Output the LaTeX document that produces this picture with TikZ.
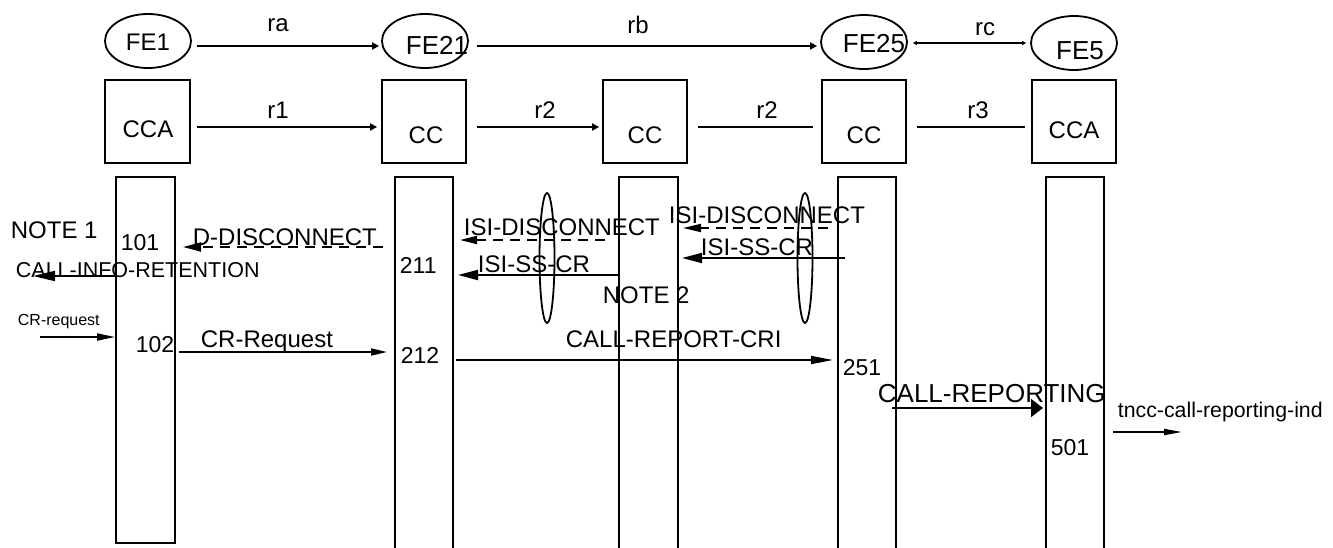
\documentclass[tikz,border=0pt]{standalone}
\usepackage{fontspec}
\setmainfont{Liberation Sans}
\usetikzlibrary{arrows.meta,shapes.geometric,calc}
\newcommand{\myfs}[1]{\fontsize{#1}{#1}\selectfont}
\begin{document}
\begin{tikzpicture}[x=1pt,y=-1pt,line width=1.8pt,
  fe/.style={draw,ellipse,minimum width=86pt,minimum height=54pt,inner sep=0pt},
  fcbox/.style={draw,rectangle,minimum height=83pt,minimum width=84pt,inner sep=0pt},
  lane/.style={draw,rectangle,minimum width=58pt,inner sep=0pt},
  oval/.style={draw,ellipse,minimum width=15pt,minimum height=130pt,inner sep=0pt},
  lbl/.style={inner sep=0pt,font=\myfs{24}},
  num/.style={inner sep=0pt,font=\myfs{23},anchor=base west},
  tipA/.style={-{Triangle[length=7pt,width=7pt]}},
  tipR/.style={{Triangle[length=4pt,width=4pt]}-{Triangle[length=4pt,width=4pt]}},
  tipM/.style={-{Triangle[length=18pt,width=9pt]}},
  tipS/.style={-{Triangle[length=16pt,width=7pt]}},
  tipB/.style={-{Triangle[length=12pt,width=18pt]}},
  dsh/.style={dash pattern=on 10pt off 7pt}]
\clip (0,0) rectangle (1333,547);
\fill[white] (0,0) rectangle (1333,547);
% functional entities
\node[fe] (fe1) at (148,41) {};
\node[fe] (fe21) at (425,41) {};
\node[fe] (fe25) at (864,42) {};
\node[fe] (fe5) at (1074,43) {};
\node[lbl,anchor=base] (fe1t) at (148,50) {FE1};
\node[lbl,anchor=base,font=\myfs{26}] (fe21t) at (437,54) {FE21};
\node[lbl,anchor=base,font=\myfs{26}] (fe25t) at (874,52) {FE25};
\node[lbl,anchor=base,font=\myfs{26}] (fe5t) at (1080,59) {FE5};
% boxes
\node[fcbox,minimum width=85pt] (b1) at (147.5,121.5) {};
\node[fcbox] (b2) at (424,121.5) {};
\node[fcbox] (b3) at (645,121.5) {};
\node[fcbox] (b4) at (864,121.5) {};
\node[fcbox] (b5) at (1074,121.5) {};
\node[lbl,anchor=base] (b1t) at (148,137) {CCA};
\node[lbl,anchor=base] (b2t) at (426,143) {CC};
\node[lbl,anchor=base] (b3t) at (645,143) {CC};
\node[lbl,anchor=base] (b4t) at (864,143) {CC};
\node[lbl,anchor=base] (b5t) at (1074,138) {CCA};
% lanes
\node[lane,minimum width=59pt,minimum height=366pt] (c1) at (145.5,360) {};
\node[lane,minimum height=383pt] (c2) at (424,368.5) {};
\node[lane,minimum width=59pt,minimum height=383pt] (c3) at (648.5,368.5) {};
\node[lane,minimum height=383pt] (c4) at (867,368.5) {};
\node[lane,minimum height=383pt] (c5) at (1075,368.5) {};
% top relations
\draw[tipA] ($(fe1.east)+(5,5)$) -- ($(fe21.west)+(-2,5)$);
\draw[tipA] ($(fe21.east)+(8,5)$) -- ($(fe25.west)+(-3,4)$);
\draw[tipR,line width=1.2pt] ($(fe25.east)+(5,1)$) -- ($(fe5.west)+(-4,0)$);
\node[lbl,anchor=base] (ra) at (278,31) {ra};
\node[lbl,anchor=base] (rb) at (638,33) {rb};
\node[lbl,anchor=base] (rc) at (985,35) {rc};
\draw[tipA] ($(b1.east)+(6,5.5)$) -- ($(b2.west)+(-4,5.5)$);
\draw[tipA] ($(b2.east)+(10,5.5)$) -- ($(b3.west)+(-3,5.5)$);
\draw ($(b3.east)+(10,5.5)$) -- ($(b4.west)+(-8,5.5)$);
\draw ($(b4.east)+(10,5.5)$) -- ($(b5.west)+(-6,5.5)$);
\node[lbl,anchor=base] (r1) at (278,118) {r1};
\node[lbl,anchor=base] (r2a) at (545,118) {r2};
\node[lbl,anchor=base] (r2b) at (767,118) {r2};
\node[lbl,anchor=base] (r3) at (978,118) {r3};
% FE1 / FE21 messages
\node[lbl,anchor=base west] (note1) at (10,238) {NOTE 1};
\node[num] (n101) at (120,250) {101};
\node[lbl,anchor=base west] (ddisc) at (192,245) {D-DISCONNECT};
\coordinate (dd0) at (383,247);
\coordinate (dd1) at (183,247);
\draw[dsh,tipM] (dd0) -- (dd1);
\node[lbl,anchor=base west,font=\myfs{21.5}] (cir) at (15,277) {CALL-INFO-RETENTION};
\coordinate (ci1) at (33,276);
\draw[-{Triangle[length=22pt,width=10pt]}] (c1.west |- ci1) -- (ci1);
\node[num] (n211) at (399,273) {211};
\node[lbl,anchor=base west,font=\myfs{16}] (crq) at (17,325) {CR-request};
\coordinate (cq0) at (40,337);
\draw[-{Triangle[length=18pt,width=7pt]}] (cq0) -- (c1.west |- cq0);
\node[num] (n102) at (135,352) {102};
\node[lbl,anchor=base west] (crR) at (200,347) {CR-Request};
\coordinate (cr0) at (179,352);
\coordinate (cr1) at (387,352);
\draw[tipS] (cr0) -- (cr1);
\node[num] (n212) at (400,363) {212};
% ISI messages
\node[lbl,anchor=base west] (isid1) at (463,235) {ISI-DISCONNECT};
\coordinate (id10) at (605,240);
\coordinate (id11) at (460,240);
\draw[dsh,-{Triangle[length=17pt,width=8pt]}] (id10) -- (id11);
\node[lbl,anchor=base west] (isis1) at (477,272) {ISI-SS-CR};
\coordinate (is11) at (458,275);
\draw[-{Triangle[length=20pt,width=10pt]}] (c3.west |- is11) -- (is11);
\node[oval] (ov1) at (547,258) {};
\node[lbl,anchor=base west] (note2) at (602,303) {NOTE 2};
\node[lbl,anchor=base west] (isid2) at (668,223) {ISI-DISCONNECT};
\coordinate (id20) at (828,228);
\coordinate (id21) at (683,228);
\draw[dsh,-{Triangle[length=18pt,width=8pt]}] (id20) -- (id21);
\node[lbl,anchor=base west] (isis2) at (700,255) {ISI-SS-CR};
\coordinate (is20) at (845,258);
\coordinate (is21) at (682,258);
\draw[-{Triangle[length=20pt,width=10pt]}] (is20) -- (is21);
\node[oval] (ov2) at (805,258) {};
\node[lbl,anchor=base west] (crc) at (565,347) {CALL-REPORT-CRI};
\coordinate (cc0) at (456,360);
\coordinate (cc1) at (833,360);
\draw[-{Triangle[length=22pt,width=8pt]}] (cc0) -- (cc1);
\node[num] (n251) at (842,375) {251};
% FE25 / FE5
\node[lbl,anchor=base west,font=\myfs{26}] (crep) at (877,402) {CALL-REPORTING};
\coordinate (rp0) at (892,408);
\coordinate (rp1) at (1043,408);
\draw[tipB] (rp0) -- (rp1);
\node[lbl,anchor=base west,font=\myfs{21.3}] (tncc) at (1117,417) {tncc-call-reporting-ind};
\coordinate (tn0) at (1113,432);
\coordinate (tn1) at (1182,432);
\draw[-{Triangle[length=18pt,width=6pt]}] (tn0) -- (tn1);
\node[num] (n501) at (1050,455) {501};
\end{tikzpicture}
\end{document}
